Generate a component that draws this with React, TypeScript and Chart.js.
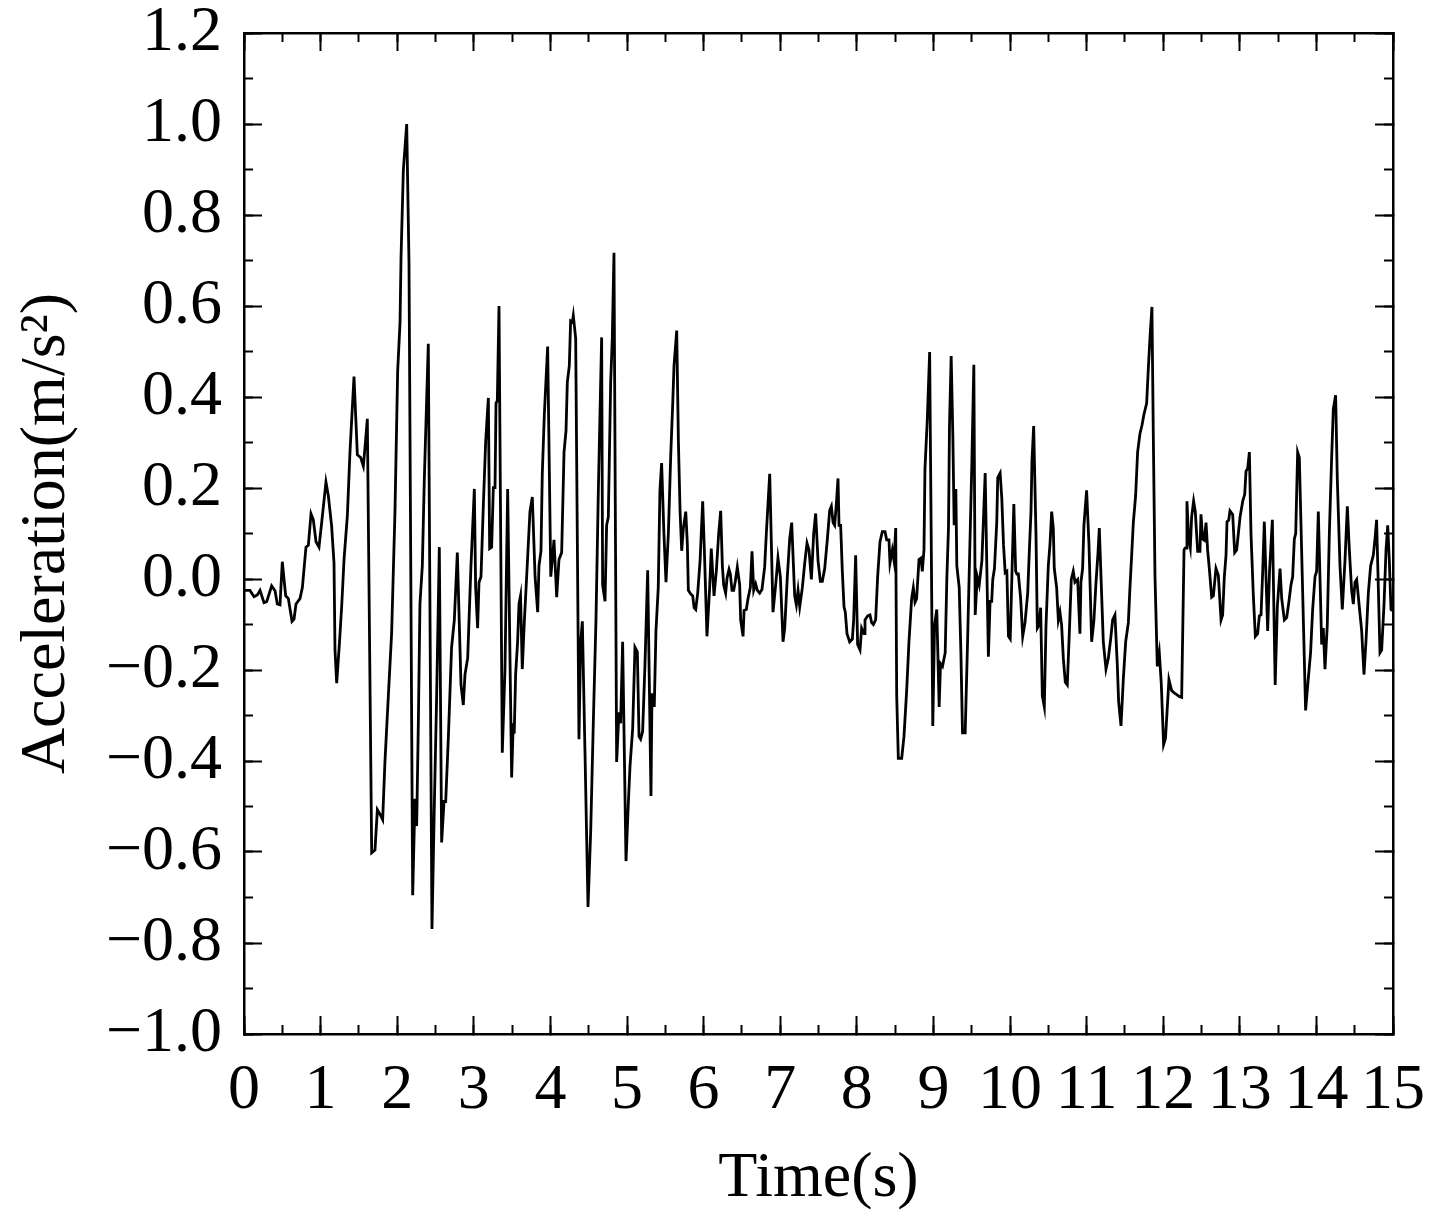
import { useEffect, useRef } from 'react';
import { Chart, registerables } from 'chart.js';

Chart.register(...registerables);

// Time stamps (s) of the acceleration record
const timeSeconds = [
  0.000, 0.078, 0.131, 0.174, 0.209, 0.261, 0.296, 0.361, 0.405, 0.435,
  0.470, 0.500, 0.544, 0.579, 0.627, 0.653, 0.679, 0.731, 0.762, 0.809,
  0.840, 0.875, 0.905, 0.940, 0.979, 1.014, 1.070, 1.101, 1.144, 1.175,
  1.188, 1.210, 1.245, 1.275, 1.306, 1.349, 1.384, 1.436, 1.480, 1.523,
  1.558, 1.580, 1.610, 1.667, 1.710, 1.741, 1.775, 1.810, 1.840, 1.884,
  1.927, 1.971, 2.006, 2.037, 2.050, 2.080, 2.124, 2.154, 2.202, 2.232,
  2.254, 2.276, 2.297, 2.328, 2.354, 2.406, 2.454, 2.485, 2.515, 2.550,
  2.580, 2.611, 2.633, 2.667, 2.710, 2.746, 2.785, 2.833, 2.863, 2.885,
  2.920, 2.963, 3.007, 3.024, 3.050, 3.068, 3.094, 3.124, 3.155, 3.190,
  3.207, 3.233, 3.255, 3.277, 3.290, 3.307, 3.329, 3.372, 3.407, 3.442,
  3.494, 3.515, 3.528, 3.546, 3.572, 3.590, 3.610, 3.633, 3.659, 3.690,
  3.733, 3.764, 3.800, 3.834, 3.851, 3.877, 3.894, 3.921, 3.964, 4.005,
  4.047, 4.082, 4.112, 4.147, 4.178, 4.204, 4.221, 4.247, 4.264, 4.286,
  4.299, 4.330, 4.373, 4.395, 4.417, 4.451, 4.491, 4.526, 4.560, 4.595,
  4.626, 4.669, 4.682, 4.713, 4.734, 4.756, 4.787, 4.808, 4.830, 4.865,
  4.895, 4.917, 4.943, 4.987, 5.017, 5.039, 5.074, 5.104, 5.135, 5.157,
  5.178, 5.204, 5.235, 5.270, 5.313, 5.326, 5.356, 5.378, 5.408, 5.430,
  5.452, 5.482, 5.509, 5.540, 5.570, 5.597, 5.614, 5.649, 5.671, 5.693,
  5.714, 5.736, 5.767, 5.788, 5.801, 5.832, 5.858, 5.876, 5.897, 5.923,
  5.954, 5.988, 6.010, 6.044, 6.079, 6.100, 6.136, 6.166, 6.197, 6.223,
  6.245, 6.262, 6.288, 6.306, 6.332, 6.349, 6.371, 6.393, 6.414, 6.440,
  6.471, 6.484, 6.515, 6.528, 6.558, 6.580, 6.610, 6.632, 6.654, 6.680,
  6.702, 6.732, 6.762, 6.797, 6.819, 6.863, 6.906, 6.941, 6.971, 7.002,
  7.037, 7.059, 7.093, 7.124, 7.150, 7.189, 7.211, 7.233, 7.255, 7.289,
  7.320, 7.350, 7.376, 7.407, 7.437, 7.463, 7.494, 7.524, 7.550, 7.581,
  7.616, 7.646, 7.668, 7.690, 7.711, 7.733, 7.755, 7.768, 7.789, 7.811,
  7.833, 7.850, 7.872, 7.907, 7.942, 7.959, 7.985, 8.011, 8.042, 8.063,
  8.094, 8.107, 8.142, 8.172, 8.194, 8.216, 8.246, 8.272, 8.303, 8.333,
  8.368, 8.390, 8.420, 8.433, 8.464, 8.486, 8.508, 8.521, 8.542, 8.586,
  8.616, 8.651, 8.681, 8.716, 8.738, 8.760, 8.781, 8.812, 8.838, 8.855,
  8.877, 8.890, 8.920, 8.951, 8.992, 9.015, 9.044, 9.075, 9.093, 9.119,
  9.154, 9.176, 9.197, 9.210, 9.232, 9.254, 9.271, 9.293, 9.306, 9.337,
  9.359, 9.380, 9.415, 9.446, 9.480, 9.502, 9.528, 9.546, 9.572, 9.598,
  9.633, 9.676, 9.718, 9.740, 9.761, 9.775, 9.797, 9.827, 9.840, 9.871,
  9.893, 9.915, 9.937, 9.959, 9.980, 10.003, 10.050, 10.074, 10.090, 10.109,
  10.139, 10.166, 10.196, 10.231, 10.253, 10.274, 10.287, 10.309, 10.339, 10.357,
  10.378, 10.400, 10.422, 10.448, 10.470, 10.500, 10.522, 10.544, 10.565, 10.578,
  10.609, 10.631, 10.652, 10.674, 10.696, 10.722, 10.748, 10.774, 10.800, 10.826,
  10.848, 10.883, 10.913, 10.926, 10.948, 10.965, 11.000, 11.031, 11.066, 11.096,
  11.123, 11.149, 11.166, 11.188, 11.218, 11.253, 11.284, 11.314, 11.340, 11.370,
  11.400, 11.418, 11.449, 11.479, 11.510, 11.545, 11.566, 11.592, 11.610, 11.640,
  11.666, 11.697, 11.723, 11.749, 11.784, 11.806, 11.827, 11.853, 11.871, 11.893,
  11.923, 11.949, 11.975, 12.005, 12.030, 12.075, 12.110, 12.140, 12.176, 12.210,
  12.241, 12.272, 12.285, 12.300, 12.310, 12.332, 12.354, 12.371, 12.397, 12.419,
  12.450, 12.480, 12.493, 12.515, 12.537, 12.559, 12.580, 12.602, 12.633, 12.655,
  12.689, 12.720, 12.755, 12.776, 12.798, 12.820, 12.833, 12.855, 12.872, 12.907,
  12.933, 12.959, 12.981, 13.003, 13.038, 13.064, 13.081, 13.103, 13.125, 13.146,
  13.177, 13.203, 13.233, 13.255, 13.277, 13.299, 13.320, 13.364, 13.388, 13.425,
  13.462, 13.490, 13.525, 13.547, 13.582, 13.612, 13.642, 13.668, 13.690, 13.712,
  13.730, 13.755, 13.777, 13.859, 13.893, 13.924, 13.951, 13.982, 14.003, 14.025,
  14.069, 14.090, 14.112, 14.142, 14.169, 14.199, 14.221, 14.251, 14.273, 14.308,
  14.338, 14.373, 14.404, 14.430, 14.460, 14.482, 14.504, 14.526, 14.560, 14.591,
  14.621, 14.647, 14.678, 14.708, 14.743, 14.765, 14.786, 14.830, 14.852, 14.883,
  14.909, 14.931, 14.952, 14.974, 14.990,
];

// Acceleration (m/s^2), one value per time stamp
const acceleration = [
  -0.025, -0.025, -0.039, -0.035, -0.025, -0.052, -0.050, -0.015, -0.026, -0.055,
  -0.057, 0.038, -0.037, -0.043, -0.093, -0.088, -0.055, -0.043, -0.019, 0.070,
  0.074, 0.143, 0.130, 0.082, 0.070, 0.124, 0.213, 0.183, 0.116, 0.035,
  -0.156, -0.229, -0.143, -0.061, 0.043, 0.138, 0.281, 0.445, 0.273, 0.267,
  0.248, 0.290, 0.352, -0.602, -0.596, -0.507, -0.517, -0.529, -0.402, -0.258,
  -0.120, 0.148, 0.457, 0.564, 0.707, 0.898, 1.000, 0.695, -0.695, -0.483,
  -0.543, -0.317, -0.055, 0.029, 0.219, 0.517, -0.769, -0.495, -0.257, 0.070,
  -0.579, -0.489, -0.489, -0.352, -0.150, -0.090, 0.058, -0.233, -0.277, -0.210,
  -0.174, 0.029, 0.198, -0.019, -0.108, -0.007, 0.005, 0.160, 0.302, 0.398,
  0.067, 0.070, 0.201, 0.201, 0.386, 0.392, 0.600, -0.382, -0.198, 0.198,
  -0.436, -0.317, -0.340, -0.210, -0.138, -0.055, -0.037, -0.198, -0.096, 0.005,
  0.148, 0.180, 0.005, -0.073, 0.029, 0.061, 0.231, 0.362, 0.511, 0.005,
  0.086, -0.040, 0.043, 0.058, 0.279, 0.326, 0.433, 0.469, 0.567, 0.564,
  0.579, 0.529, -0.352, -0.138, -0.093, -0.376, -0.721, -0.555, -0.317, -0.090,
  0.195, 0.531, -0.013, -0.049, 0.118, 0.136, 0.433, 0.529, 0.717, -0.402,
  -0.293, -0.317, -0.138, -0.620, -0.495, -0.412, -0.329, -0.150, -0.160, -0.346,
  -0.352, -0.335, -0.186, 0.019, -0.477, -0.251, -0.281, -0.114, -0.019, 0.195,
  0.255, 0.100, -0.007, 0.100, 0.267, 0.386, 0.469, 0.546, 0.302, 0.148,
  0.062, 0.112, 0.148, 0.076, -0.025, -0.033, -0.037, -0.063, -0.067, -0.031,
  0.040, 0.171, 0.064, -0.126, -0.019, 0.067, -0.037, 0.017, 0.100, 0.150,
  0.029, -0.013, -0.031, 0.002, 0.021, 0.011, -0.025, -0.025, -0.005, 0.026,
  -0.013, -0.090, -0.126, -0.069, -0.067, -0.043, -0.019, 0.061, -0.025, -0.011,
  -0.025, -0.031, -0.023, 0.026, 0.100, 0.231, -0.073, -0.013, 0.046, 0.005,
  -0.138, -0.108, 0.005, 0.088, 0.124, -0.037, -0.057, -0.025, -0.061, -0.019,
  0.035, 0.079, 0.064, -0.001, 0.100, 0.144, 0.040, -0.005, -0.005, 0.023,
  0.088, 0.151, 0.160, 0.124, 0.118, 0.165, 0.221, 0.118, 0.118, 0.017,
  -0.061, -0.073, -0.120, -0.138, -0.132, -0.090, 0.052, -0.144, -0.156, -0.108,
  -0.120, -0.090, -0.081, -0.079, -0.096, -0.100, -0.090, 0.005, 0.082, 0.104,
  0.104, 0.086, 0.086, 0.035, 0.064, 0.040, 0.112, -0.257, -0.394, -0.394,
  -0.346, -0.245, -0.138, -0.043, -0.019, -0.051, -0.043, 0.043, 0.046, 0.017,
  0.064, 0.243, 0.350, 0.499, -0.323, -0.102, -0.067, -0.281, -0.186, -0.192,
  -0.162, 0.005, 0.112, 0.338, 0.490, 0.314, 0.118, 0.198, 0.029, -0.019,
  -0.162, -0.338, -0.338, -0.138, 0.100, 0.255, 0.471, -0.079, 0.005, -0.013,
  0.040, 0.233, -0.171, -0.049, -0.049, -0.001, 0.023, 0.124, 0.223, 0.233,
  0.177, 0.076, 0.014, 0.017, -0.126, -0.132, 0.165, 0.017, 0.011, 0.011,
  -0.043, -0.126, -0.096, -0.031, 0.064, 0.148, 0.261, 0.336, 0.100, -0.108,
  -0.102, -0.063, -0.257, -0.281, -0.102, 0.029, 0.076, 0.148, 0.112, 0.023,
  -0.019, -0.090, -0.073, -0.102, -0.174, -0.227, -0.233, -0.120, -0.001, 0.017,
  -0.007, -0.001, -0.120, -0.007, 0.023, 0.118, 0.195, 0.076, -0.138, -0.090,
  -0.007, 0.058, 0.112, 0.005, -0.138, -0.198, -0.174, -0.132, -0.090, -0.079,
  -0.186, -0.269, -0.323, -0.221, -0.138, -0.096, -0.019, 0.064, 0.124, 0.183,
  0.279, 0.320, 0.338, 0.362, 0.386, 0.463, 0.529, 0.598, 0.314, 0.005,
  -0.192, -0.162, -0.230, -0.364, -0.350, -0.221, -0.245, -0.250, -0.254, -0.258,
  -0.260, 0.064, 0.068, 0.068, 0.171, 0.090, 0.069, 0.136, 0.171, 0.148,
  0.061, 0.061, 0.142, 0.088, 0.085, 0.124, 0.064, 0.023, -0.040, -0.037,
  0.023, 0.008, -0.090, -0.079, 0.005, 0.052, 0.126, 0.129, 0.150, 0.142,
  0.058, 0.064, 0.100, 0.136, 0.171, 0.186, 0.237, 0.243, 0.279, 0.100,
  -0.037, -0.126, -0.120, -0.081, -0.079, 0.017, 0.126, -0.114, 0.017, 0.130,
  -0.233, -0.061, 0.023, -0.043, -0.090, -0.085, -0.049, -0.013, 0.005, 0.088,
  0.100, 0.279, 0.267, -0.289, -0.221, -0.162, -0.067, 0.005, 0.017, 0.148,
  -0.144, -0.108, -0.198, -0.102, 0.100, 0.267, 0.374, 0.404, 0.219, 0.029,
  -0.067, 0.040, 0.160, 0.064, -0.025, -0.055, -0.007, -0.001, -0.061, -0.114,
  -0.210, -0.138, -0.031, 0.029, 0.052, 0.088, 0.130, -0.162, -0.156, -0.055,
  0.064, 0.118, 0.040, -0.067, -0.070,
];

const xRange = [0, 15];
const yRange = [-1.0, 1.2];
const xMajorStep = 1;
const xMinorStep = 0.5;
const yMajorStep = 0.2;
const yMinorStep = 0.1;
const xTitle = 'Time(s)';
const yTitle = 'Acceleration(m/s\u00B2)';

const FONT = '"Liberation Serif", "Times New Roman", "DejaVu Serif", serif';
const BLACK = '#000000';

function yLabel(v: number | string): string {
  const n = Number(v);
  const r = Math.abs(n) < 1e-9 ? 0 : n;
  const s = r.toFixed(1);
  return s.startsWith('-') ? '\u2212' + s.slice(1) : s;
}

function gridOpts(len: number) {
  return {
    drawOnChartArea: false,
    drawTicks: true,
    tickLength: -len,
    tickWidth: 2,
    tickColor: BLACK,
    color: BLACK,
  };
}

function zeroPad(s: any) {
  s.paddingTop = 0;
  s.paddingBottom = 0;
  s.paddingLeft = 0;
  s.paddingRight = 0;
}

function fixHeight(h: number) {
  return (s: any) => {
    s.height = h;
    zeroPad(s);
  };
}

function fixWidth(w: number) {
  return (s: any) => {
    s.width = w;
    zeroPad(s);
  };
}

export default function App() {
  const canvasRef = useRef<HTMLCanvasElement | null>(null);

  useEffect(() => {
    const canvas = canvasRef.current;
    if (!canvas) return;
    const points = timeSeconds.map((t, i) => ({ x: t, y: acceleration[i] }));

    const chart = new Chart(canvas, {
      type: 'line',
      data: {
        datasets: [
          {
            data: points,
            xAxisID: 'x',
            yAxisID: 'y',
            borderColor: BLACK,
            borderWidth: 2.8,
            pointRadius: 0,
            pointHoverRadius: 0,
            tension: 0,
            fill: false,
          },
        ],
      },
      options: {
        animation: false,
        responsive: false,
        devicePixelRatio: 1,
        layout: { padding: { left: 0, right: 47, top: 33, bottom: 0 } },
        plugins: {
          legend: { display: false },
          tooltip: { enabled: false },
        },
        scales: {
          x: {
            type: 'linear',
            position: 'bottom',
            min: xRange[0],
            max: xRange[1],
            weight: 1,
            grid: gridOpts(18),
            border: { display: true, color: BLACK, width: 2.5 },
            ticks: {
              stepSize: xMajorStep,
              autoSkip: false,
              maxRotation: 0,
              minRotation: 0,
              padding: 37,
              color: BLACK,
              font: { family: FONT, size: 64 },
              callback: (v: any) => String(Number(v)),
            },
            title: {
              display: true,
              text: xTitle,
              color: BLACK,
              font: { family: FONT, size: 64 },
              padding: { top: 0, bottom: 6 },
            },
            afterFit: fixHeight(190),
          },
          xMinor: {
            type: 'linear',
            position: 'bottom',
            min: xRange[0],
            max: xRange[1],
            weight: 0,
            grid: gridOpts(9),
            border: { display: false },
            ticks: { display: false, stepSize: xMinorStep, autoSkip: false },
            afterFit: fixHeight(0),
          },
          xTop: {
            type: 'linear',
            position: 'top',
            min: xRange[0],
            max: xRange[1],
            weight: 1,
            grid: gridOpts(18),
            border: { display: true, color: BLACK, width: 2.5 },
            ticks: { display: false, stepSize: xMajorStep, autoSkip: false },
            afterFit: fixHeight(0),
          },
          xTopMinor: {
            type: 'linear',
            position: 'top',
            min: xRange[0],
            max: xRange[1],
            weight: 0,
            grid: gridOpts(9),
            border: { display: false },
            ticks: { display: false, stepSize: xMinorStep, autoSkip: false },
            afterFit: fixHeight(0),
          },
          y: {
            type: 'linear',
            position: 'left',
            min: yRange[0],
            max: yRange[1],
            weight: 1,
            grid: gridOpts(18),
            border: { display: true, color: BLACK, width: 2.5 },
            ticks: {
              stepSize: yMajorStep,
              autoSkip: false,
              padding: 40,
              color: BLACK,
              font: { family: FONT, size: 64 },
              callback: (v: any) => yLabel(v),
            },
            title: {
              display: true,
              text: yTitle,
              color: BLACK,
              font: { family: FONT, size: 64 },
              padding: { top: 9, bottom: 0 },
            },
            afterFit: fixWidth(244),
          },
          yMinor: {
            type: 'linear',
            position: 'left',
            min: yRange[0],
            max: yRange[1],
            weight: 0,
            grid: gridOpts(9),
            border: { display: false },
            ticks: { display: false, stepSize: yMinorStep, autoSkip: false },
            afterFit: fixWidth(0),
          },
          yRight: {
            type: 'linear',
            position: 'right',
            min: yRange[0],
            max: yRange[1],
            weight: 1,
            grid: gridOpts(18),
            border: { display: true, color: BLACK, width: 2.5 },
            ticks: { display: false, stepSize: yMajorStep, autoSkip: false },
            afterFit: fixWidth(0),
          },
          yRightMinor: {
            type: 'linear',
            position: 'right',
            min: yRange[0],
            max: yRange[1],
            weight: 0,
            grid: gridOpts(9),
            border: { display: false },
            ticks: { display: false, stepSize: yMinorStep, autoSkip: false },
            afterFit: fixWidth(0),
          },
        },
      } as any,
    });

    return () => {
      chart.destroy();
    };
  }, []);

  return (
    <div
      style={{
        position: 'fixed',
        left: 0,
        top: 0,
        width: 1440,
        height: 1224,
        background: '#ffffff',
      }}
    >
      <canvas
        ref={canvasRef}
        width={1440}
        height={1224}
        style={{ display: 'block', width: 1440, height: 1224 }}
      />
    </div>
  );
}
